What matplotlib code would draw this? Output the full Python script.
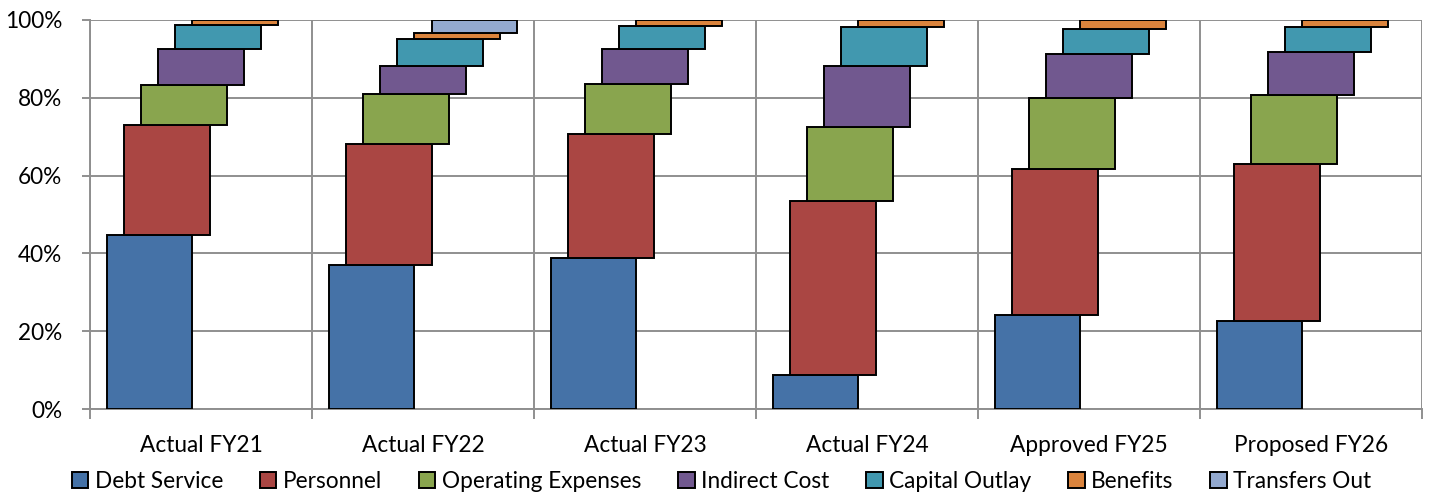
import numpy as np
import matplotlib
matplotlib.use('Agg')
import matplotlib.pyplot as plt
from matplotlib.patches import Patch
from matplotlib.ticker import FixedLocator, PercentFormatter

plt.rcParams['font.family'] = ['Lato', 'DejaVu Sans']

### DATA (percent of total per year)
CATEGORIES = ['Actual FY21', 'Actual FY22', 'Actual FY23', 'Actual FY24', 'Approved FY25', 'Proposed FY26']
SERIES = ['Debt Service', 'Personnel', 'Operating Expenses', 'Indirect Cost',
          'Capital Outlay', 'Benefits', 'Transfers Out']

debt_service = [44.7, 36.9, 38.8, 8.7, 24.1, 22.6]
personnel = [28.2, 31.2, 31.9, 44.7, 37.5, 40.5]
operating_expenses = [10.3, 12.8, 12.9, 19.1, 18.3, 17.6]
indirect_cost = [9.3, 7.3, 9.0, 15.8, 11.4, 11.2]
capital_outlay = [6.3, 6.9, 5.9, 9.9, 6.5, 6.4]
benefits = [1.2, 1.5, 1.5, 1.8, 2.2, 1.7]
transfers_out = [0.0, 3.4, 0.0, 0.0, 0.0, 0.0]

COLORS = ['#4572A7', '#AA4643', '#89A54E', '#71588F', '#4198AF', '#DB843D', '#93A9CF']

values = np.array([debt_service, personnel, operating_expenses, indirect_cost,
                   capital_outlay, benefits, transfers_out])

GRID = '#8f8f8f'
SLOTS = 13
BAR_W = 5 / SLOTS
FS = 16.3

fig = plt.figure(figsize=(14.35, 4.97), dpi=100)
ax = fig.add_axes([90 / 1435, 1 - 409 / 497, (1422 - 90) / 1435, (409 - 20) / 497])

bottoms = np.zeros(len(CATEGORIES))
for i, name in enumerate(SERIES):
    vals = values[i]
    x = np.arange(len(CATEGORIES)) + (i + 1) / SLOTS
    for g in range(len(CATEGORIES)):
        if vals[g] <= 0:
            continue
        ax.bar(x[g], vals[g], width=BAR_W, bottom=bottoms[g], align='edge',
               color=COLORS[i], edgecolor='black', linewidth=1.4, zorder=3)
    bottoms += vals

ax.set_xlim(0, len(CATEGORIES))
ax.set_ylim(0, 100)

ax.yaxis.set_major_locator(FixedLocator([0, 20, 40, 60, 80, 100]))
ax.yaxis.set_major_formatter(PercentFormatter(decimals=0))
ax.xaxis.set_major_locator(FixedLocator(np.arange(len(CATEGORIES)) + 0.5))
ax.set_xticklabels(CATEGORIES)
ax.xaxis.set_minor_locator(FixedLocator(np.arange(len(CATEGORIES) + 1)))

ax.tick_params(axis='x', which='major', length=0, pad=19, labelsize=FS)
ax.tick_params(axis='x', which='minor', length=7, width=1.4, color=GRID)
ax.tick_params(axis='y', which='major', length=6, width=1.4, color=GRID, labelsize=FS, pad=14)

ax.grid(axis='y', which='major', color=GRID, linewidth=1.4, zorder=0)
ax.grid(axis='x', which='minor', color=GRID, linewidth=1.4, zorder=0)
ax.set_axisbelow(True)

for side in ['top', 'right']:
    ax.spines[side].set_visible(False)
for side in ['left', 'bottom']:
    ax.spines[side].set_color(GRID)
    ax.spines[side].set_linewidth(1.4)

handles = [Patch(facecolor=c, edgecolor='black', linewidth=1.4, label=s) for s, c in zip(SERIES, COLORS)]
fig.legend(handles=handles, loc='center', bbox_to_anchor=(0.503, 1 - 481 / 497), ncol=7,
           frameon=False, fontsize=FS, handlelength=0.72, handleheight=0.72,
           handletextpad=0.3, columnspacing=1.62, borderaxespad=0)

fig.savefig('out.png', dpi=100)
